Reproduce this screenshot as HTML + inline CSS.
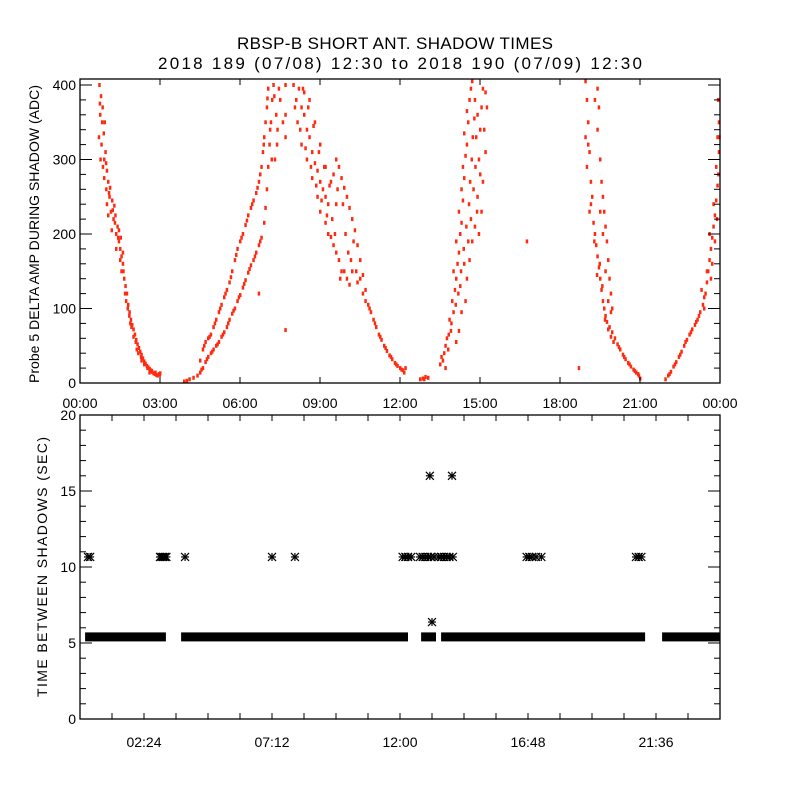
<!DOCTYPE html>
<html><head><meta charset="utf-8"><style>
html,body{margin:0;padding:0;background:#fff;}
svg{display:block;font-family:"Liberation Sans",sans-serif;}
</style></head><body>
<svg id="chart" width="800" height="800" viewBox="0 0 800 800">
<rect x="0" y="0" width="800" height="800" fill="#fff"/>
<text x="395" y="49" font-size="17" text-anchor="middle" textLength="316" lengthAdjust="spacing">RBSP-B SHORT ANT. SHADOW TIMES</text>
<text x="400" y="69" font-size="17" text-anchor="middle" textLength="484" lengthAdjust="spacing">2018 189 (07/08) 12:30 to 2018 190 (07/09) 12:30</text>
<g id="topPanel"></g>
<g id="botPanel"></g>
<text transform="translate(39,234) rotate(-90)" font-size="14" text-anchor="middle" textLength="298" lengthAdjust="spacing">Probe 5 DELTA AMP DURING SHADOW (ADC)</text>
<text transform="translate(47,567) rotate(-90)" font-size="14" text-anchor="middle" textLength="260" lengthAdjust="spacing">TIME BETWEEN SHADOWS (SEC)</text>
</svg>
<script>
// ---- top panel data: [hour, ADC] ----
const pass1 = [[0.72,400],[0.78,385],[0.75,360],[0.82,350],[0.7,330],[0.8,320],[0.88,335],[0.76,300],[0.85,290],[0.95,310],[0.9,275],[1.0,285],[0.98,260],[1.05,270],[1.1,250],[1.0,240],[1.15,230],[1.2,245],[1.25,220],[1.3,215],[1.35,200],[1.4,210],[1.45,190],[1.5,180],[1.55,170],[1.6,160],[1.55,150],[1.65,140],[1.7,130],[1.75,120],[1.8,105],[1.85,95],[1.9,85],[1.95,78],[2.0,72],[2.05,65],[2.1,58],[2.15,52],[2.2,47],[2.25,42],[2.3,38],[2.35,33],[2.4,29],[2.45,26],[2.5,23],[2.55,21],[2.6,19],[2.65,17],[2.7,15],[2.75,13],[2.8,12],[2.85,11],[2.9,10],[2.95,12],[3.0,13],[1.12,262],[1.28,238],[1.42,195],[1.6,175],[1.72,110],[1.88,80],[2.0,62],[2.12,45],[0.92,350],[1.05,225],[1.18,205],[1.35,180],[1.5,165],[2.3,30],[2.6,14],[0.74,375],[0.84,370],[0.9,300],[0.97,295],[1.08,255],[1.22,232],[1.32,225],[1.45,205],[1.52,195],[1.62,150],[1.68,120],[1.78,100],[1.84,90],[1.92,75],[2.08,55],[2.18,40],[2.28,35],[2.4,25],[2.52,20],[2.68,16],[2.82,14],[2.98,11]];
const pass2 = [[3.9,2],[4.0,3],[4.1,5],[4.4,10],[4.5,14],[4.6,20],[4.7,28],[4.8,35],[4.9,40],[5.0,45],[5.1,50],[5.2,55],[5.3,62],[5.4,68],[5.5,75],[5.6,85],[5.7,93],[5.8,100],[5.9,110],[6.0,118],[6.1,128],[6.2,138],[6.3,148],[6.4,158],[6.5,165],[6.6,175],[6.7,185],[6.8,195],[6.9,215],[6.95,235],[7.0,260],[7.05,290],[7.1,320],[7.15,350],[7.2,380],[7.25,400],[4.5,30],[4.6,45],[4.7,55],[4.8,60],[4.9,65],[5.0,75],[5.1,85],[5.2,95],[5.3,105],[5.4,115],[5.5,125],[5.6,135],[5.7,150],[5.8,165],[5.9,180],[6.0,190],[6.1,200],[6.2,212],[6.3,225],[6.4,235],[6.5,245],[6.6,255],[6.7,270],[6.8,290],[6.85,310],[6.9,330],[6.95,350],[7.0,370],[7.05,395],[7.3,300],[7.35,360],[7.4,340],[7.45,395],[7.7,400],[7.7,360],[7.7,330],[7.7,71],[6.7,120],[4.25,7],[4.55,18],[4.75,32],[4.95,42],[5.15,52],[5.35,65],[5.55,80],[5.75,97],[5.95,115],[6.15,133],[6.35,153],[6.55,170],[6.75,190],[4.65,50],[4.85,62],[5.05,80],[5.25,100],[5.45,120],[5.65,142],[5.85,172],[6.05,195],[6.25,218],[6.45,240],[6.65,262],[6.75,280],[6.88,320],[7.02,382],[7.12,340],[7.18,300],[7.28,385],[7.38,320],[7.5,380],[7.6,350]];
const pass3 = [[8.0,400],[8.1,380],[8.2,395],[8.3,370],[8.15,350],[8.4,360],[8.5,340],[8.3,320],[8.6,330],[8.7,310],[8.5,300],[8.8,295],[8.9,285],[8.7,275],[9.0,270],[9.1,260],[9.2,250],[8.9,250],[9.3,240],[9.0,230],[9.2,215],[9.3,200],[9.4,196],[9.5,185],[9.6,175],[9.7,165],[9.8,150],[9.75,140],[9.9,150],[10.0,140],[10.1,132],[9.6,300],[9.7,290],[9.8,275],[9.9,262],[10.0,250],[10.1,235],[10.2,220],[10.3,205],[10.4,185],[10.5,165],[10.6,145],[10.7,125],[10.2,150],[10.4,135],[10.6,120],[10.8,105],[10.9,95],[11.0,85],[11.1,75],[11.2,65],[11.3,58],[11.4,50],[11.5,43],[11.6,37],[11.7,32],[11.8,27],[11.9,23],[12.0,20],[12.1,17],[12.15,14],[12.2,20],[8.4,390],[8.6,380],[8.8,350],[9.0,320],[9.2,290],[9.4,270],[9.6,240],[12.75,5],[12.85,6],[12.95,8],[13.05,7],[8.05,370],[8.25,340],[8.35,395],[8.45,315],[8.55,370],[8.65,290],[8.75,345],[8.85,265],[8.95,310],[9.05,245],[9.15,290],[9.25,225],[9.35,265],[9.45,220],[9.5,280],[9.55,200],[9.65,260],[9.85,240],[9.95,200],[10.05,175],[10.15,165],[10.25,190],[10.35,150],[10.5,140],[10.7,110],[10.85,100],[11.05,80],[11.25,62],[11.45,47],[11.65,35],[11.85,25],[12.05,18],[12.9,5]];
const pass4 = [[13.5,25],[13.6,30],[13.7,20],[13.65,40],[13.8,45],[13.75,60],[13.9,70],[13.85,85],[14.0,95],[13.95,110],[14.05,125],[14.1,140],[14.0,150],[14.15,160],[14.2,175],[14.1,190],[14.25,200],[14.3,215],[14.2,230],[14.35,245],[14.3,260],[14.4,275],[14.35,290],[14.45,305],[14.5,320],[14.4,335],[14.55,350],[14.5,365],[14.6,380],[14.65,395],[14.7,405],[14.8,380],[14.9,360],[14.85,330],[14.95,300],[15.0,280],[14.9,250],[15.05,230],[14.8,210],[15.1,395],[15.2,390],[15.25,370],[15.15,340],[15.2,310],[15.1,270],[14.7,190],[14.6,165],[14.5,140],[14.45,110],[14.3,95],[14.2,70],[14.1,55],[16.75,190],[13.55,35],[13.7,50],[13.82,65],[13.92,80],[14.08,105],[14.18,120],[14.28,150],[14.38,180],[14.48,210],[14.58,240],[14.62,270],[14.68,300],[14.72,330],[14.78,355],[14.82,290],[14.88,230],[14.95,200],[15.0,340],[15.05,370],[14.75,260],[14.65,220],[14.55,190],[14.4,160],[14.25,130]];
const pass5 = [[18.95,405],[19.0,380],[19.05,350],[18.95,330],[19.1,310],[19.0,290],[19.15,270],[19.2,250],[19.1,230],[19.25,215],[19.3,200],[19.35,185],[19.4,170],[19.45,155],[19.5,140],[19.55,125],[19.6,110],[19.65,100],[19.7,90],[19.75,82],[19.85,75],[19.95,68],[20.05,60],[20.15,52],[20.25,45],[20.35,38],[20.45,32],[20.55,27],[20.65,22],[20.75,18],[20.85,14],[20.95,10],[21.0,6],[19.4,395],[19.45,370],[19.4,340],[19.5,300],[19.55,270],[19.6,250],[19.65,230],[19.7,210],[19.75,190],[19.8,165],[19.85,140],[19.9,120],[19.95,100],[19.3,380],[19.6,200],[19.5,230],[18.7,20],[19.05,320],[19.15,240],[19.28,190],[19.38,145],[19.48,160],[19.58,130],[19.68,85],[19.8,72],[19.9,62],[20.0,55],[20.2,48],[20.4,35],[20.6,25],[20.8,16],[20.92,12],[19.7,150],[19.8,110],[19.9,95]];
const pass6 = [[21.95,5],[22.05,10],[22.15,15],[22.25,22],[22.35,28],[22.45,35],[22.55,42],[22.65,50],[22.75,58],[22.85,65],[22.95,72],[23.05,78],[23.15,85],[23.25,95],[23.35,105],[23.45,120],[23.5,135],[23.55,150],[23.6,165],[23.65,180],[23.7,195],[23.75,210],[23.8,225],[23.85,245],[23.9,265],[23.85,290],[23.95,310],[23.9,330],[23.95,350],[23.92,380],[23.3,125],[23.4,100],[23.6,200],[23.7,160],[23.75,240],[22.1,12],[22.3,25],[22.5,38],[22.7,55],[22.9,68],[23.1,82],[23.2,90],[23.4,115],[23.5,150],[23.65,140],[23.8,190],[23.88,220],[23.93,280],[23.97,330]];
const topXTickLabels = ["00:00","03:00","06:00","09:00","12:00","15:00","18:00","21:00","00:00"];
const topYTickLabels = ["0","100","200","300","400"];
// ---- bottom panel data ----
const bandStartHours = [0.19,3.79,12.79,13.54,21.83];
const bandEndHours = [3.22,12.3,13.35,21.19,24.0];
const bandValue = [5.4];
const starHours = [0.3,0.38,3.0,3.06,3.12,3.18,3.24,3.94,7.2,8.06,12.1,12.2,12.3,12.42,12.75,12.85,12.95,13.05,13.15,13.28,13.45,13.55,13.65,13.75,13.85,13.98,16.75,16.85,16.95,17.1,17.3,20.85,20.95,21.05,13.12,13.95,13.2];
const starValues = [10.66,10.66,10.66,10.66,10.66,10.66,10.66,10.66,10.66,10.66,10.66,10.66,10.66,10.66,10.66,10.66,10.66,10.66,10.66,10.66,10.66,10.66,10.66,10.66,10.66,10.66,10.66,10.66,10.66,10.66,10.66,10.66,10.66,10.66,16.0,16.0,6.38];
const botXTickLabels = ["02:24","07:12","12:00","16:48","21:36"];
const botYTickLabels = ["0","5","10","15","20"];

const NS="http://www.w3.org/2000/svg";
const L=80,R=720;
const xH = h => L + h*(R-L)/24;
const T1=79,B1=383, yA = v => B1 - v*0.745;
const T2=415,B2=719, yS = v => B2 - v*(B2-T2)/20;
function mk(tag,attrs,parent){const e=document.createElementNS(NS,tag);for(const k in attrs)e.setAttribute(k,attrs[k]);parent.appendChild(e);return e;}
const topG=document.getElementById('topPanel'), botG=document.getElementById('botPanel');

// top points
const tp=mk('g',{},topG);


[pass1,pass2,pass3,pass4,pass5,pass6].forEach(arr=>arr.forEach(p=>{
  const v=Math.min(p[1],406);
  const r=mk('rect',{x:(xH(p[0])-1).toFixed(1),y:(yA(v)-2).toFixed(1),width:2.5,height:4,fill:'#ff2a10'},tp);
  
  
}));

// top frame & ticks
const f1=mk('rect',{x:L,y:T1,width:R-L,height:B1-T1,fill:'none',stroke:'#000','stroke-width':1.3},topG);


topXTickLabels.forEach((lab,i)=>{
  const x=xH(i*3);
  mk('line',{x1:x,y1:B1,x2:x,y2:B1-6,stroke:'#000'},topG);
  mk('line',{x1:x,y1:T1,x2:x,y2:T1+6,stroke:'#000'},topG);
  const t=mk('text',{x:x,y:B1+25,'font-size':14,'text-anchor':'middle'},topG);
  t.textContent=lab;
  
  
});
for(let v=0;v<=400;v+=20){
  const y=yA(v), len=(v%100===0)?12:6;
  mk('line',{x1:L,y1:y,x2:L+len,y2:y,stroke:'#000'},topG);
  mk('line',{x1:R,y1:y,x2:R-len,y2:y,stroke:'#000'},topG);
}
topYTickLabels.forEach((lab,i)=>{
  const t=mk('text',{x:L-4,y:yA(i*100)+5,'font-size':14,'text-anchor':'end'},topG);
  t.textContent=lab;
  
  
});

// bottom band
bandStartHours.forEach((s,i)=>{
  const x1=xH(s), x2=xH(bandEndHours[i]), y=yS(bandValue[0]);
  const r=mk('rect',{x:x1.toFixed(1),y:(y-4.5).toFixed(1),width:(x2-x1).toFixed(1),height:9,fill:'#000'},botG);
  
  
});
starHours.forEach((h,i)=>{
  const cx=xH(h), cy=yS(starValues[i]), s=4;
  const g=mk('g',{stroke:'#000','stroke-width':1.2},botG);
  
  
  mk('line',{x1:cx-s,y1:cy,x2:cx+s,y2:cy},g);
  mk('line',{x1:cx,y1:cy-s,x2:cx,y2:cy+s},g);
  mk('line',{x1:cx-s,y1:cy-s,x2:cx+s,y2:cy+s},g);
  mk('line',{x1:cx-s,y1:cy+s,x2:cx+s,y2:cy-s},g);
});
const f2=mk('rect',{x:L,y:T2,width:R-L,height:B2-T2,fill:'none',stroke:'#000','stroke-width':1.3},botG);


for(let k=0;k<=20;k++){
  const x=xH(k*1.2);
  mk('line',{x1:x,y1:B2,x2:x,y2:B2-6,stroke:'#000'},botG);
  mk('line',{x1:x,y1:T2,x2:x,y2:T2+6,stroke:'#000'},botG);
}
botXTickLabels.forEach((lab,i)=>{
  const t=mk('text',{x:xH(2.4+i*4.8),y:B2+28,'font-size':14,'text-anchor':'middle'},botG);
  t.textContent=lab;
  
  
});
for(let v=0;v<=20;v++){
  const y=yS(v), len=(v%5===0)?12:6;
  mk('line',{x1:L,y1:y,x2:L+len,y2:y,stroke:'#000'},botG);
  mk('line',{x1:R,y1:y,x2:R-len,y2:y,stroke:'#000'},botG);
}
botYTickLabels.forEach((lab,i)=>{
  const t=mk('text',{x:L-4,y:yS(i*5)+5,'font-size':14,'text-anchor':'end'},botG);
  t.textContent=lab;
  
  
});
</script>
</body></html>
